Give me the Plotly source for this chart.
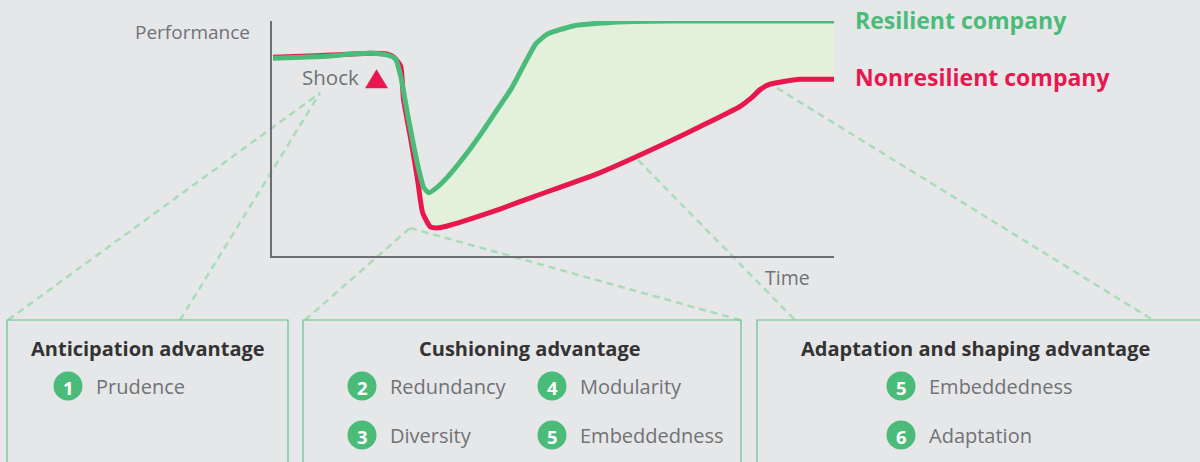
import plotly.graph_objects as go

W, H = 1200, 462

# ---- data -----------------------------------------------------------
time_resilient = [0.2, 5.2, 10.0, 14.0, 17.6, 20.6, 22.0, 22.9, 24.2, 26.0, 27.0, 27.9,
                  29.3, 31.3, 34.5, 37.7, 40.1, 42.5, 45.1, 46.9, 49.0, 53.6, 61.5, 70.3, 85.1, 100]
perf_resilient = [84.2, 84.6, 85.0, 85.9, 86.3, 85.5, 83.8, 76.5, 59.4, 38.0, 29.1, 26.9,
                  29.1, 33.8, 43.2, 53.8, 62.4, 70.9, 82.5, 90.2, 94.4, 97.9, 99.6, 100, 100, 100]
time_nonresilient = [0.2, 5.2, 10.5, 17.6, 20.6, 21.7, 22.9, 23.4, 24.7, 25.9, 26.8, 28.2,
                     29.7, 31.8, 34.8, 40.7, 46.5, 58.4, 70.3, 76.2, 83.3, 85.4, 86.9, 88.6, 91.3, 94.0, 100]
perf_nonresilient = [84.6, 85.0, 85.5, 86.3, 85.9, 84.6, 80.8, 66.7, 49.6, 32.5, 18.4, 12.4,
                     12.0, 13.2, 15.4, 20.1, 25.2, 35.5, 48.3, 55.1, 63.7, 67.5, 70.9, 73.1, 74.4, 75.2, 75.2]
shock_time = [18.6]
shock_perf = [74.8]

series_names = ["Resilient company", "Nonresilient company"]
box_titles = ["Anticipation advantage", "Cushioning advantage", "Adaptation and shaping advantage"]
box_items = [
    [("1", "Prudence")],
    [("2", "Redundancy"), ("3", "Diversity"), ("4", "Modularity"), ("5", "Embeddedness")],
    [("5", "Embeddedness"), ("6", "Adaptation")],
]

# ---- style ----------------------------------------------------------
BG = "#e6e7e9"
GREEN = "#4bbb7a"
RED = "#e8184f"
FILL = "#e3f0dc"
GRAY = "#717275"
DARK = "#333333"
DASH = "#a9dcb8"
BOX = "#62c389"
FONT = "Open Sans"

def px(x):
    return x / W

def py(y):
    return 1 - y / H

# chart area in pixels
AX_L, AX_R, AX_T, AX_B = 272, 834, 21, 256
X_RANGE = [0, 100]
Y_RANGE = [0, 100]

def data_to_px(t, p):
    x = AX_L + (t - X_RANGE[0]) / (X_RANGE[1] - X_RANGE[0]) * (AX_R - AX_L)
    y = AX_B - (p - Y_RANGE[0]) / (Y_RANGE[1] - Y_RANGE[0]) * (AX_B - AX_T)
    return x, y

fig = go.Figure()

# fill band between the two curves
fig.add_trace(go.Scatter(x=time_nonresilient, y=perf_nonresilient, mode="lines",
                         line=dict(width=0, shape="spline", smoothing=0.5, color=FILL),
                         hoverinfo="skip", showlegend=False))
fig.add_trace(go.Scatter(x=time_resilient, y=perf_resilient, mode="lines",
                         line=dict(width=0, shape="spline", smoothing=0.5, color=FILL),
                         fill="tonexty", fillcolor=FILL, hoverinfo="skip", showlegend=False))
# lines
fig.add_trace(go.Scatter(x=time_nonresilient, y=perf_nonresilient, mode="lines",
                         name=series_names[1],
                         line=dict(width=5, shape="spline", smoothing=0.5, color=RED),
                         showlegend=False))
fig.add_trace(go.Scatter(x=time_resilient, y=perf_resilient, mode="lines",
                         name=series_names[0],
                         line=dict(width=5, shape="spline", smoothing=0.5, color=GREEN),
                         showlegend=False))

fig.update_xaxes(domain=[px(AX_L), px(AX_R)], range=X_RANGE, showgrid=False, zeroline=False,
                 showticklabels=False, ticks="", showline=True, linecolor="#6d6e71", linewidth=1.5)
fig.update_yaxes(domain=[py(AX_B), py(AX_T)], range=Y_RANGE, showgrid=False, zeroline=False,
                 showticklabels=False, ticks="", showline=True, linecolor="#6d6e71", linewidth=1.5)

shapes = []
ann = []

# shock triangle (drawn around the shock data point)
sx, sy = data_to_px(shock_time[0], shock_perf[0])
shapes.append(dict(type="path", xref="paper", yref="paper",
                   path=f"M {px(sx-11.5)},{py(sy+8)} L {px(sx+11.5)},{py(sy+8)} L {px(sx)},{py(sy-11)} Z",
                   fillcolor=RED, line=dict(width=0)))

def line(x0, y0, x1, y1):
    shapes.append(dict(type="line", xref="paper", yref="paper",
                       x0=px(x0), y0=py(y0), x1=px(x1), y1=py(y1),
                       line=dict(color=DASH, width=2.5, dash="7px,5px"), layer="below"))

# dashed connectors
line(8, 320, 320, 93)
line(180, 320, 320, 93)
line(305, 320, 410, 228)
line(410, 228, 740, 320)
line(638, 160, 795, 320)
line(777, 88, 1153, 320)

# boxes
for x0, x1 in [(7, 288), (303, 741), (757, 1210)]:
    shapes.append(dict(type="rect", xref="paper", yref="paper",
                       x0=px(x0), x1=px(x1), y0=py(320), y1=py(480),
                       line=dict(color=BOX, width=1.2), fillcolor="rgba(0,0,0,0)"))

def text(x, y, s, size, color, anchor="center", bold=False):
    ann.append(dict(xref="paper", yref="paper", x=px(x), y=py(y), text=f"<b>{s}</b>" if bold else s,
                    showarrow=False, xanchor=anchor, yanchor="middle",
                    font=dict(family=FONT, size=size, color=color)))

text(252, 32, "Performance", 19, GRAY, anchor="right")
text(787, 277, "Time", 19.5, GRAY)
text(361, 77, "Shock", 20.5, GRAY, anchor="right")
text(853, 20, series_names[0], 23, GREEN, anchor="left", bold=True)
text(853, 77, series_names[1], 23, RED, anchor="left", bold=True)

# box titles
text(148, 348, box_titles[0], 20, DARK, bold=True)
text(530, 348, box_titles[1], 20, DARK, bold=True)
text(975, 348, box_titles[2], 20, DARK, bold=True)

def item(cx, cy, num, label):
    r = 14.5
    shapes.append(dict(type="circle", xref="paper", yref="paper",
                       x0=px(cx - r), x1=px(cx + r), y0=py(cy + r), y1=py(cy - r),
                       fillcolor=GREEN, line=dict(width=0)))
    text(cx, cy + 1, num, 18.5, "white", bold=True)
    text(cx + 26, cy, label, 20, GRAY, anchor="left")

item_pos = [
    [(68, 386)],
    [(362, 386), (362, 435), (552, 386), (552, 435)],
    [(901, 386), (901, 435)],
]
for items, poss in zip(box_items, item_pos):
    for (num, label), (cx, cy) in zip(items, poss):
        item(cx, cy, num, label)

fig.update_layout(width=W, height=H, margin=dict(l=0, r=0, t=0, b=0),
                  paper_bgcolor=BG, plot_bgcolor=BG, shapes=shapes, annotations=ann,
                  showlegend=False)

fig.write_html("out.html", config={"displayModeBar": False})
